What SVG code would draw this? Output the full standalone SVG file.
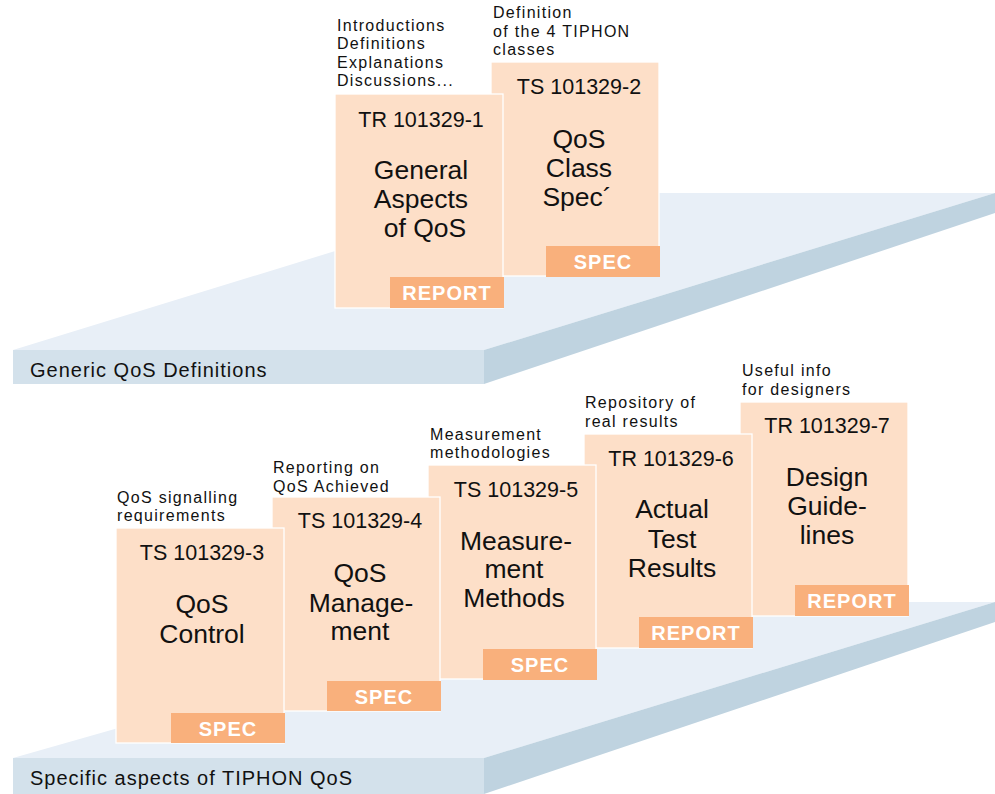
<svg xmlns="http://www.w3.org/2000/svg" width="995" height="794" viewBox="0 0 995 794">
  <style>
    text { font-family: "Liberation Sans", Arial, sans-serif; fill: #111; }
    .top { fill: #e8eff7; }
    .front { fill: #d3e1eb; }
    .side { fill: #bfd3e0; }
    .body { fill: #fddfc8; stroke: #ffffff; stroke-width: 1.3; }
    .tag { fill: #f9b07c; }
    .tagtxt { font-size: 20px; font-weight: bold; fill: #ffffff; letter-spacing: 1px; text-anchor: middle; }
    .code { font-size: 21.5px; text-anchor: middle; }
    .title { font-size: 26.5px; text-anchor: middle; }
    .note { font-size: 16px; letter-spacing: 1.3px; }
    .label { font-size: 20px; letter-spacing: 1px; }
  </style>

  <!-- Upper shelf: generic definitions -->
  <g id="shelf-generic">
    <polygon class="top" points="13,350 484,350 995,193 524,193"/>
    <rect class="front" x="13" y="350" width="471" height="34"/>
    <polygon class="side" points="484,350 995,193 995,213 484,384"/>
    <text class="label" x="30" y="377">Generic QoS Definitions</text>
  </g>

  <!-- Lower shelf: specific aspects -->
  <g id="shelf-specific">
    <polygon class="top" points="13,758 484,758 995,602 560,602"/>
    <rect class="front" x="13" y="758" width="471" height="36"/>
    <polygon class="side" points="484,758 995,602 995,622 484,794"/>
    <text class="label" x="30" y="785">Specific aspects of TIPHON QoS</text>
  </g>

  <!-- Documents on the upper shelf (back to front) -->
  <g id="doc-ts-101329-2" transform="translate(491,62)">
    <text class="note" x="2" y="-44">Definition</text>
    <text class="note" x="2" y="-25.5">of the 4 TIPHON</text>
    <text class="note" x="2" y="-7">classes</text>
    <rect class="body" x="0" y="0" width="168" height="214"/>
    <text class="code" x="88" y="32">TS 101329-2</text>
    <text class="title" x="88" y="86">QoS</text>
    <text class="title" x="88" y="115">Class</text>
    <text class="title" x="86" y="144">Spec´</text>
    <rect class="tag" x="55" y="184" width="114" height="31"/>
    <text class="tagtxt" x="112" y="207">SPEC</text>
  </g>

  <g id="doc-tr-101329-1" transform="translate(335,94)">
    <text class="note" x="2" y="-63.5">Introductions</text>
    <text class="note" x="2" y="-45">Definitions</text>
    <text class="note" x="2" y="-26.5">Explanations</text>
    <text class="note" x="2" y="-8">Discussions...</text>
    <rect class="body" x="0" y="0" width="168" height="214"/>
    <text class="code" x="86" y="33">TR 101329-1</text>
    <text class="title" x="86" y="85">General</text>
    <text class="title" x="86" y="114">Aspects</text>
    <text class="title" x="90" y="143">of QoS</text>
    <rect class="tag" x="55" y="183" width="114" height="31"/>
    <text class="tagtxt" x="112" y="206">REPORT</text>
  </g>

  <!-- Documents on the lower shelf (back to front) -->
  <g id="doc-tr-101329-7" transform="translate(740,402)">
    <text class="note" x="2" y="-26">Useful info</text>
    <text class="note" x="2" y="-7.5">for designers</text>
    <rect class="body" x="0" y="0" width="168" height="214"/>
    <text class="code" x="87" y="31">TR 101329-7</text>
    <text class="title" x="87" y="84">Design</text>
    <text class="title" x="87" y="113">Guide-</text>
    <text class="title" x="87" y="142">lines</text>
    <rect class="tag" x="55" y="183" width="114" height="31"/>
    <text class="tagtxt" x="112" y="206">REPORT</text>
  </g>

  <g id="doc-tr-101329-6" transform="translate(584,434)">
    <text class="note" x="1" y="-26">Repository of</text>
    <text class="note" x="1" y="-7.5">real results</text>
    <rect class="body" x="0" y="0" width="168" height="214"/>
    <text class="code" x="87" y="32">TR 101329-6</text>
    <text class="title" x="88" y="84">Actual</text>
    <text class="title" x="88" y="114">Test</text>
    <text class="title" x="88" y="143">Results</text>
    <rect class="tag" x="55" y="183" width="114" height="31"/>
    <text class="tagtxt" x="112" y="206">REPORT</text>
  </g>

  <g id="doc-ts-101329-5" transform="translate(428,465)">
    <text class="note" x="2" y="-25.5">Measurement</text>
    <text class="note" x="2" y="-7">methodologies</text>
    <rect class="body" x="0" y="0" width="168" height="214"/>
    <text class="code" x="88" y="32">TS 101329-5</text>
    <text class="title" x="88" y="85">Measure-</text>
    <text class="title" x="86" y="113">ment</text>
    <text class="title" x="86" y="142">Methods</text>
    <rect class="tag" x="55" y="184" width="114" height="31"/>
    <text class="tagtxt" x="112" y="207">SPEC</text>
  </g>

  <g id="doc-ts-101329-4" transform="translate(272,497)">
    <text class="note" x="1" y="-24">Reporting on</text>
    <text class="note" x="1" y="-5.5">QoS Achieved</text>
    <rect class="body" x="0" y="0" width="168" height="214"/>
    <text class="code" x="88" y="31">TS 101329-4</text>
    <text class="title" x="88" y="85">QoS</text>
    <text class="title" x="89" y="115">Manage-</text>
    <text class="title" x="88" y="143">ment</text>
    <rect class="tag" x="55" y="184" width="114" height="30"/>
    <text class="tagtxt" x="112" y="207">SPEC</text>
  </g>

  <g id="doc-ts-101329-3" transform="translate(116,528)">
    <text class="note" x="1" y="-25.5">QoS signalling</text>
    <text class="note" x="1" y="-7">requirements</text>
    <rect class="body" x="0" y="0" width="168" height="215"/>
    <text class="code" x="86" y="32">TS 101329-3</text>
    <text class="title" x="86" y="85">QoS</text>
    <text class="title" x="86" y="115">Control</text>
    <rect class="tag" x="55" y="185" width="114" height="30"/>
    <text class="tagtxt" x="112" y="208">SPEC</text>
  </g>

  <!-- no connectors in this figure -->
  <g id="connectors"/>
</svg>
